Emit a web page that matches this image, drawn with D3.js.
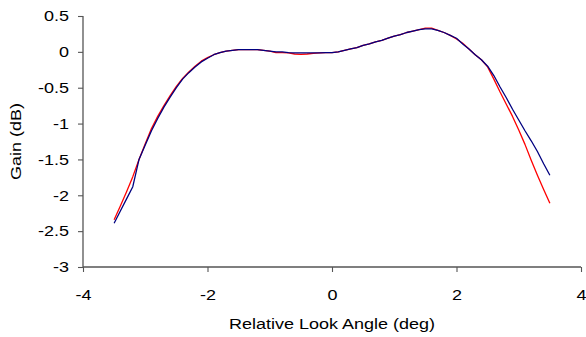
<!DOCTYPE html>
<html>
<head>
<meta charset="utf-8">
<script src="https://cdn.jsdelivr.net/npm/d3@7"></script>
<style>
  html, body { margin: 0; padding: 0; background: #fff; }
  svg { display: block; font-family: "Liberation Sans", Arial, sans-serif; }
</style>
</head>
<body>
<svg id="chart" width="586" height="337"></svg>
<script>
// Look angle samples (deg)
const angles = d3.range(-35, 36).map(i => i / 10);

// Measured gain (dB), red trace
const gainRed = [
  -2.34, -2.15, -1.95, -1.74, -1.50, -1.28, -1.07, -0.90, -0.75, -0.61,
  -0.48, -0.37, -0.28, -0.20, -0.13, -0.08, -0.04, -0.01, 0.01, 0.02,
  0.03, 0.03, 0.03, 0.03, 0.02, 0.01, -0.01, -0.01, -0.015, -0.03,
  -0.035, -0.03, -0.02, -0.015, -0.01, -0.01, 0.00, 0.02, 0.04, 0.06,
  0.09, 0.11, 0.14, 0.16, 0.19, 0.22, 0.24, 0.27, 0.29, 0.31,
  0.33, 0.33, 0.30, 0.27, 0.23, 0.18, 0.12, 0.04, -0.04, -0.11,
  -0.21, -0.38, -0.56, -0.73, -0.90, -1.09, -1.29, -1.51, -1.72, -1.92,
  -2.11
];

// Measured gain (dB), blue trace
const gainBlue = [
  -2.39, -2.22, -2.05, -1.88, -1.50, -1.30, -1.10, -0.93, -0.77, -0.63,
  -0.50, -0.38, -0.29, -0.21, -0.14, -0.09, -0.04, -0.01, 0.01, 0.02,
  0.03, 0.03, 0.03, 0.03, 0.02, 0.01, 0.00, 0.00, -0.01, -0.015,
  -0.015, -0.015, -0.015, -0.015, -0.01, -0.01, 0.00, 0.02, 0.04, 0.06,
  0.09, 0.11, 0.14, 0.16, 0.19, 0.22, 0.24, 0.27, 0.29, 0.31,
  0.32, 0.32, 0.30, 0.27, 0.23, 0.19, 0.11, 0.04, -0.04, -0.11,
  -0.20, -0.33, -0.49, -0.64, -0.80, -0.95, -1.10, -1.24, -1.39, -1.56,
  -1.72
];

const xTicks = [-4, -2, 0, 2, 4];
const yTicks = [-3, -2.5, -2, -1.5, -1, -0.5, 0, 0.5];

const stretch = 1.2;      // wide lettering
const fontSize = 15;
const axisColor = "#555";

const svg = d3.select("#chart");
const plotLeft = 83, plotRight = 581, plotTop = 16, plotBottom = 267;

const x = d3.scaleLinear().domain([-4, 4]).range([plotLeft, plotRight]);
const y = d3.scaleLinear().domain([-3, 0.5]).range([plotBottom, plotTop]);

function widenLabels(g) {
  g.selectAll(".tick text").each(function () {
    const t = d3.select(this);
    const x0 = +t.attr("x") || 0;
    t.attr("x", x0 / stretch).attr("transform", `scale(${stretch},1)`);
  });
}

// Y axis
const yAxis = svg.append("g")
  .attr("transform", `translate(${plotLeft},0)`)
  .call(d3.axisLeft(y).tickValues(yTicks).tickSize(5).tickPadding(9)
    .tickFormat(d => String(d)));
yAxis.selectAll(".tick text").attr("font-size", fontSize).attr("fill", "#000")
  .attr("font-family", '"Liberation Sans", Arial, sans-serif');
yAxis.call(widenLabels);

// X axis
const xAxis = svg.append("g")
  .attr("transform", `translate(0,${plotBottom})`)
  .call(d3.axisBottom(x).tickValues(xTicks).tickSize(5).tickPadding(17)
    .tickFormat(d => String(d)));
xAxis.selectAll(".tick text").attr("font-size", fontSize).attr("fill", "#000")
  .attr("font-family", '"Liberation Sans", Arial, sans-serif');
xAxis.call(widenLabels);

[yAxis, xAxis].forEach(a => {
  a.select(".domain").attr("stroke", axisColor).attr("stroke-width", 1.3);
  a.selectAll(".tick line").attr("stroke", axisColor).attr("stroke-width", 1.1);
});
// plain axis lines without the outer-tick caps
yAxis.select(".domain").attr("d", `M0,${plotTop}V${plotBottom}`);
xAxis.select(".domain").attr("d", `M${plotLeft},0H${plotRight}`);

// Traces
const line = d3.line().x((d, i) => x(angles[i])).y(d => y(d));

svg.append("path").datum(gainRed)
  .attr("fill", "none").attr("stroke", "#ff0000").attr("stroke-width", 1.3)
  .attr("stroke-linejoin", "round").attr("d", line);

svg.append("path").datum(gainBlue)
  .attr("fill", "none").attr("stroke", "#000080").attr("stroke-width", 1.3)
  .attr("stroke-linejoin", "round").attr("d", line);

// Axis titles
svg.append("text")
  .attr("transform", `translate(${x(0)},328.5) scale(${stretch},1)`)
  .attr("text-anchor", "middle").attr("font-size", fontSize).attr("fill", "#000")
  .text("Relative Look Angle (deg)");

svg.append("text")
  .attr("transform", `translate(21,${(plotTop + plotBottom) / 2}) rotate(-90) scale(${stretch},1)`)
  .attr("text-anchor", "middle").attr("font-size", fontSize).attr("fill", "#000")
  .text("Gain (dB)");
</script>
</body>
</html>
